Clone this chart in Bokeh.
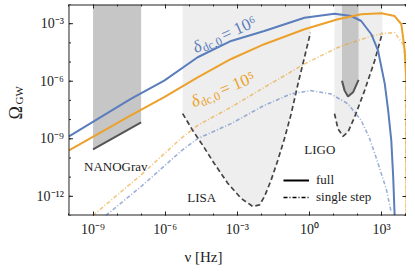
import math
from bokeh.plotting import figure
from bokeh.models import (FixedTicker, LogAxis, Label, Legend, LegendItem, Range1d,
                          CustomJSTickFormatter)
from bokeh.core.properties import value
from bokeh.embed import file_html
from bokeh.resources import INLINE

# ---------------- data (log10 values) ----------------
x_ticks = [1e-9, 1e-6, 1e-3, 1e0, 1e3]
x_tick_labels = ["10⁻⁹", "10⁻⁶", "10⁻³", "10⁰", "10³"]
x_minor = [1e-10, 1e-9, 1e-8, 1e-7, 1e-6, 1e-5, 1e-4, 1e-3, 1e-2, 1e-1, 1e0, 1e1, 1e2, 1e3, 1e4]
y_ticks = [1e-12, 1e-9, 1e-6, 1e-3]
y_tick_labels = ["10⁻¹²", "10⁻⁹", "10⁻⁶", "10⁻³"]
y_minor = [1e-13, 1e-12, 1e-11, 1e-10, 1e-9, 1e-8, 1e-7, 1e-6, 1e-5, 1e-4, 1e-3, 1e-2]

# delta = 1e6, full
full6_lognu = [-10.0, -7.43, -6.04, -4.65, -3.26, -1.88, -0.21, 1.04, 1.74, 2.15, 2.57, 2.85, 3.13, 3.27, 3.40, 3.48, 3.54]
full6_logom = [-8.87, -6.92, -5.97, -4.75, -3.90, -3.38, -2.69, -2.48, -2.60, -2.86, -3.55, -4.41, -6.14, -7.52, -9.08, -11.0, -13.0]
# delta = 1e5, full
full5_lognu = [-10.0, -7.43, -6.04, -4.65, -3.26, -1.88, -0.21, 1.18, 2.15, 2.99, 3.54, 3.82, 3.96, 4.03, 4.04]
full5_logom = [-9.60, -7.78, -6.83, -5.80, -4.84, -4.07, -3.29, -2.77, -2.51, -2.46, -2.60, -3.03, -4.41, -6.14, -13.0]
# delta = 1e6, single step
single6_lognu = [-8.47, -7.01, -5.30, -4.65, -3.26, -1.88, -0.77, 0.05, 0.88, 1.60, 2.15, 2.50, 2.85, 3.20, 3.40]
single6_logom = [-13.0, -11.50, -9.60, -8.99, -8.21, -7.26, -6.66, -6.49, -6.66, -7.18, -8.04, -8.99, -10.28, -11.66, -12.85]
# delta = 1e5, single step
single5_lognu = [-9.0, -7.01, -5.35, -4.65, -3.26, -1.88, -0.21, 1.18, 2.57, 3.20, 3.54, 3.89, 4.00, 4.02]
single5_logom = [-13.0, -10.89, -8.99, -8.30, -7.35, -6.32, -5.10, -4.24, -3.64, -3.50, -3.47, -4.07, -4.93, -13.0]

# detector sensitivities
nanograv_lognu = [-9.0, -7.0]
nanograv_logom = [-9.55, -8.15]
lisa_lognu = [-5.275, -4.86, -4.44, -3.96, -3.40, -2.85, -2.36, -2.08, -1.875, -1.60, -1.32, -1.04, -0.76, -0.48, -0.21, 0.04]
lisa_logom = [-7.69, -8.56, -9.34, -10.29, -11.32, -12.10, -12.53, -12.45, -12.02, -11.17, -10.13, -8.99, -7.69, -6.14, -4.76, -3.47]
ligo_lognu = [1.04, 1.18, 1.39, 1.60, 1.875, 2.29, 2.71, 3.03]
ligo_logom = [-7.69, -8.47, -8.87, -8.65, -7.87, -6.49, -4.93, -3.47]
ligo_o3_lognu = [1.35, 1.46, 1.60, 1.81, 2.04]
ligo_o3_logom = [-5.97, -6.49, -6.80, -6.58, -5.93]

# axis limits: the plotted box spans 1e-10 .. X_MAX, 1e-13 .. 1e-2
X_MIN, X_MAX = 1e-10, 10 ** 4.033
Y_MIN, Y_MAX = 1e-13, 1e-2
X_VIEW_LEFT = 10 ** -12.848      # room left of the box for the y tick labels / label
PX_PER_DEC = 24.05

def lin(v):
    return [10.0 ** a for a in v]

BLUE = "#5a7dbc"
ORANGE = "#eba12b"
DARK = "#444444"
AX = "#222222"
SERIF = "Liberation Serif"

p = figure(x_axis_type="log", y_axis_type="log", y_axis_location=None,
           x_range=Range1d(X_VIEW_LEFT, X_MAX), y_range=Range1d(Y_MIN, Y_MAX),
           frame_width=406, frame_height=211,
           min_border_left=0, min_border_right=0, min_border_top=4, min_border_bottom=5,
           output_backend="svg", toolbar_location=None)
p.xgrid.visible = False
p.ygrid.visible = False
p.outline_line_color = None
p.background_fill_color = "white"

# bottom axis
xa = p.xaxis[0]
xa.ticker = FixedTicker(ticks=x_ticks, minor_ticks=x_minor)
xa.major_label_overrides = {t: l for t, l in zip(x_ticks, x_tick_labels)}
xa.major_tick_in, xa.major_tick_out, xa.minor_tick_in, xa.minor_tick_out = 4, 0, 2, 0
xa.axis_line_color = None
xa.major_tick_line_color = AX
xa.minor_tick_line_color = AX
xa.major_label_text_font = SERIF
xa.major_label_text_font_size = "14px"
xa.major_label_text_color = AX
xa.major_label_standoff = 6
xa.axis_label = "ν [Hz]"
xa.axis_label_text_font = SERIF
xa.axis_label_text_font_style = "normal"
xa.axis_label_text_font_size = "15px"
xa.axis_label_text_color = AX
xa.axis_label_standoff = 9

# top / right tick-only axes
for side, ticks, minor in [("above", x_ticks, x_minor), ("right", y_ticks, y_minor)]:
    ax = LogAxis(ticker=FixedTicker(ticks=ticks, minor_ticks=minor),
                 formatter=CustomJSTickFormatter(code="return ''"),
                 major_label_text_font_size="1px", major_label_standoff=0,
                 major_tick_in=4, major_tick_out=0, minor_tick_in=2, minor_tick_out=0,
                 axis_line_color=(AX if side == "right" else None),
                 major_tick_line_color=AX, minor_tick_line_color=AX)
    p.add_layout(ax, side)

# left y ticks and labels
maj_len = 10 ** (math.log10(X_MIN) + 4 / PX_PER_DEC)
min_len = 10 ** (math.log10(X_MIN) + 2 / PX_PER_DEC)
p.segment(x0=[X_MIN] * len(y_minor), y0=y_minor, x1=[min_len] * len(y_minor), y1=y_minor,
          line_color=AX, line_width=1)
p.segment(x0=[X_MIN] * len(y_ticks), y0=y_ticks, x1=[maj_len] * len(y_ticks), y1=y_ticks,
          line_color=AX, line_width=1)
label_x = 10 ** (math.log10(X_MIN) - 5 / PX_PER_DEC)
p.text(x=[label_x] * len(y_ticks), y=y_ticks, text=y_tick_labels, text_font=value(SERIF),
       text_font_size="14px", text_align="right", text_baseline="middle", text_color=AX)

# shaded regions
p.varea(x=lin(nanograv_lognu), y1=lin(nanograv_logom), y2=[Y_MAX] * len(nanograv_lognu),
        fill_color="#c6c6c6")
p.varea(x=lin(lisa_lognu), y1=lin(lisa_logom), y2=[Y_MAX] * len(lisa_lognu), fill_color="#eeeeee")
p.varea(x=lin(ligo_lognu), y1=lin(ligo_logom), y2=[Y_MAX] * len(ligo_lognu), fill_color="#eeeeee")
p.varea(x=lin(ligo_o3_lognu), y1=lin(ligo_o3_logom), y2=[Y_MAX] * len(ligo_o3_lognu), fill_color="#c6c6c6")

p.line(lin(nanograv_lognu), lin(nanograv_logom), line_color="#555555", line_width=2)
p.line(lin(ligo_o3_lognu), lin(ligo_o3_logom), line_color="#555555", line_width=2)
p.line(lin(lisa_lognu), lin(lisa_logom), line_color=DARK, line_width=1.7, line_dash="5 3")
p.line(lin(ligo_lognu), lin(ligo_logom), line_color=DARK, line_width=1.7, line_dash="5 3")

# curves
p.line(lin(single6_lognu), lin(single6_logom), line_color=BLUE, line_alpha=0.6, line_width=1.6, line_dash="4 2 1 2")
p.line(lin(single5_lognu), lin(single5_logom), line_color=ORANGE, line_alpha=0.6, line_width=1.6, line_dash="4 2 1 2")
p.line(lin(full6_lognu), lin(full6_logom), line_color=BLUE, line_width=2)
p.line(lin(full5_lognu), lin(full5_logom), line_color=ORANGE, line_width=2)

# box spines (left, top, bottom) drawn over the fills
p.segment(x0=[X_MIN, X_MIN], y0=[Y_MAX, Y_MIN], x1=[X_MAX, X_MAX], y1=[Y_MAX, Y_MIN],
          line_color=AX, line_width=2)
p.segment(x0=[X_MIN], y0=[Y_MIN], x1=[X_MIN], y1=[Y_MAX], line_color=AX, line_width=1)

# detector labels
for txt, lx, ly in [("NANOGrav", -9.375, -10.42), ("LISA", -4.48, -12.06), ("LIGO", 0.43, -9.57)]:
    align = "left" if txt == "NANOGrav" else "center"
    p.add_layout(Label(x=10 ** lx, y=10 ** ly, text=txt, text_font=SERIF, text_font_size="13px",
                       text_align=align, text_baseline="middle", text_color=AX))

def rotated_label(lx, ly, ang_deg, rest, color):
    a = math.radians(ang_deg)
    parts = [("δ", "17px", "italic", 0, 0), ("dc,0", "12px", "normal", 8.5, -4), (rest, "17px", "normal", 31, 0)]
    for t, fs, st, dx, dy in parts:
        p.add_layout(Label(x=10 ** lx, y=10 ** ly, text=t, text_font=SERIF, text_font_size=fs,
                           text_font_style=st, text_color=color, angle=a,
                           x_offset=dx * math.cos(a) - dy * math.sin(a),
                           y_offset=dx * math.sin(a) + dy * math.cos(a),
                           text_align="left", text_baseline="alphabetic"))

rotated_label(-4.82, -4.28, 24, "= 10⁶", BLUE)
rotated_label(-4.90, -7.10, 22.5, "= 10⁵", ORANGE)

# y axis label  Omega_GW (screen units inside the frame, which starts at the page's left edge)
p.add_layout(Label(x=15, y=96, x_units="screen", y_units="screen", text="Ω", text_font=SERIF,
                   text_font_size="18px", angle=math.pi / 2, text_align="left",
                   text_baseline="alphabetic", text_color=AX))
p.add_layout(Label(x=18, y=111, x_units="screen", y_units="screen", text="GW", text_font=SERIF,
                   text_font_size="11px", angle=math.pi / 2, text_align="left",
                   text_baseline="alphabetic", text_color=AX))

# legend (dummy renderers drawn far outside the visible range)
r_full = p.line([1e-30, 1e-29], [1e-30, 1e-29], line_color="black", line_width=2)
r_single = p.line([1e-30, 1e-29], [1e-30, 1e-29], line_color="black", line_width=1.6, line_dash="4 2 1 2")
legend = Legend(items=[LegendItem(label="full", renderers=[r_full]),
                       LegendItem(label="single step", renderers=[r_single])],
                location=(283, 10), orientation="vertical",
                background_fill_alpha=0, border_line_alpha=0,
                glyph_width=26, glyph_height=16, label_height=16, label_standoff=7,
                spacing=1, padding=0, margin=0,
                label_text_font=SERIF, label_text_font_size="13px", label_text_color=AX)
p.add_layout(legend)

open("out.html", "w").write(file_html(p, INLINE))
